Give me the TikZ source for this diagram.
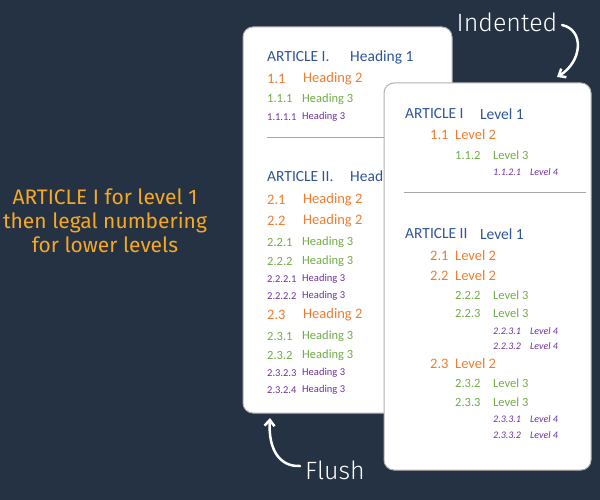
\documentclass[tikz,border=0pt]{standalone}
\usetikzlibrary{arrows.meta}
\usepackage{fontspec}
\setmainfont{Carlito}
\newfontfamily\hand{Fira Sans Light}
\newfontfamily\handb{Fira Sans}
\definecolor{bg}{HTML}{243243}
\definecolor{hb}{HTML}{2F5597}
\definecolor{ho}{HTML}{ED7D31}
\definecolor{hg}{HTML}{70AD47}
\definecolor{hp}{HTML}{7030A0}
\definecolor{yel}{HTML}{F7A823}
\begin{document}
\begin{tikzpicture}[x=1pt,y=-1pt,
 card/.style={draw=gray!60,line width=1pt,fill=white,rounded corners=10pt},
 t/.style={anchor=west,inner sep=0pt},
 l1/.style={t,text=hb,font=\fontsize{15.5}{15}\selectfont},
 l2/.style={t,text=ho,font=\fontsize{14.5}{14}\selectfont},
 l3/.style={t,text=hg,font=\fontsize{12.5}{12}\selectfont},
 l4/.style={t,text=hp,font=\fontsize{10.5}{10}\selectfont},
 l4i/.style={t,text=hp,font=\fontsize{10}{10}\selectfont\itshape},
 arr/.style={draw=white,line width=2.5pt,line cap=round,-{Straight Barb[length=6pt,width=10pt]}}]
\fill[bg] (0,0) rectangle (600,500);
\useasboundingbox (0,0) rectangle (600,500);
% left card
\draw[card] (243,27) rectangle (452,413);
\foreach \y/\a/\b/\s in {57/ARTICLE I./Heading 1/l1,177/ARTICLE II./Heading 1/l1}{
 \node[\s] at (267,\y) {\a}; \node[\s] at (350,\y) {\b};}
\foreach \y/\a/\s in {79/1.1/l2,99/1.1.1/l3,117/1.1.1.1/l4,200/2.1/l2,221/2.2/l2,242/2.2.1/l3,261/2.2.2/l3,279/2.2.2.1/l4,296/2.2.2.2/l4,315/2.3/l2,336/2.3.1/l3,355/2.3.2/l3,373/2.3.2.3/l4,390/2.3.2.4/l4}{
 \node[\s] at (267,\y) {\a};}
\foreach \y/\s/\x/\h in {79/l2/303/Heading 2,99/l3/302/Heading 3,117/l4/302/Heading 3,200/l2/303/Heading 2,221/l2/303/Heading 2,242/l3/302/Heading 3,261/l3/302/Heading 3,279/l4/302/Heading 3,296/l4/302/Heading 3,315/l2/303/Heading 2,336/l3/302/Heading 3,355/l3/302/Heading 3,373/l4/302/Heading 3,390/l4/302/Heading 3}{
 \node[\s] at (\x,\y) {\h};}
\draw[gray!70,line width=0.8pt] (267,137) -- (440,137);
% right card
\draw[card] (384,83) rectangle (591,470);
\node[l1] at (405,114) {ARTICLE I}; \node[l1] at (480,114) {Level 1};
\node[l1] at (405,234) {ARTICLE II}; \node[l1] at (480,234) {Level 1};
\draw[gray!70,line width=0.8pt] (404,192) -- (586,192);
\foreach \y/\n in {135/1.1,256/2.1,276/2.2,364/2.3}{
 \node[l2] at (430,\y) {\n}; \node[l2] at (455,\y) {Level 2};}
\foreach \y/\n in {155/1.1.2,295/2.2.2,313/2.2.3,383/2.3.2,402/2.3.3}{
 \node[l3] at (455,\y) {\n}; \node[l3] at (493,\y) {Level 3};}
\foreach \y/\n in {172/1.1.2.1,331/2.2.3.1,346/2.2.3.2,419/2.3.3.1,435/2.3.3.2}{
 \node[l4i] at (493,\y) {\n}; \node[l4i] at (530,\y) {Level 4};}
% labels
\node[text=white,font=\hand\fontsize{25}{25}\selectfont] (ind) at (507,22) {Indented};
\node[text=white,font=\hand\fontsize{25}{25}\selectfont] (fl) at (335,470) {Flush};
\coordinate (a1) at (562,25); \coordinate (a2) at (557,77);
\draw[arr] (a1) .. controls (585,30) and (582,62) .. (a2);
\coordinate (b1) at (300,466); \coordinate (b2) at (270,418);
\draw[arr] (b1) .. controls (280,467) and (268,450) .. (b2);
\node[text=yel,align=center,font=\handb\fontsize{21}{24}\selectfont] (lt) at (105,221) {ARTICLE I for level 1\\then legal numbering\\for lower levels};
\end{tikzpicture}
\end{document}
